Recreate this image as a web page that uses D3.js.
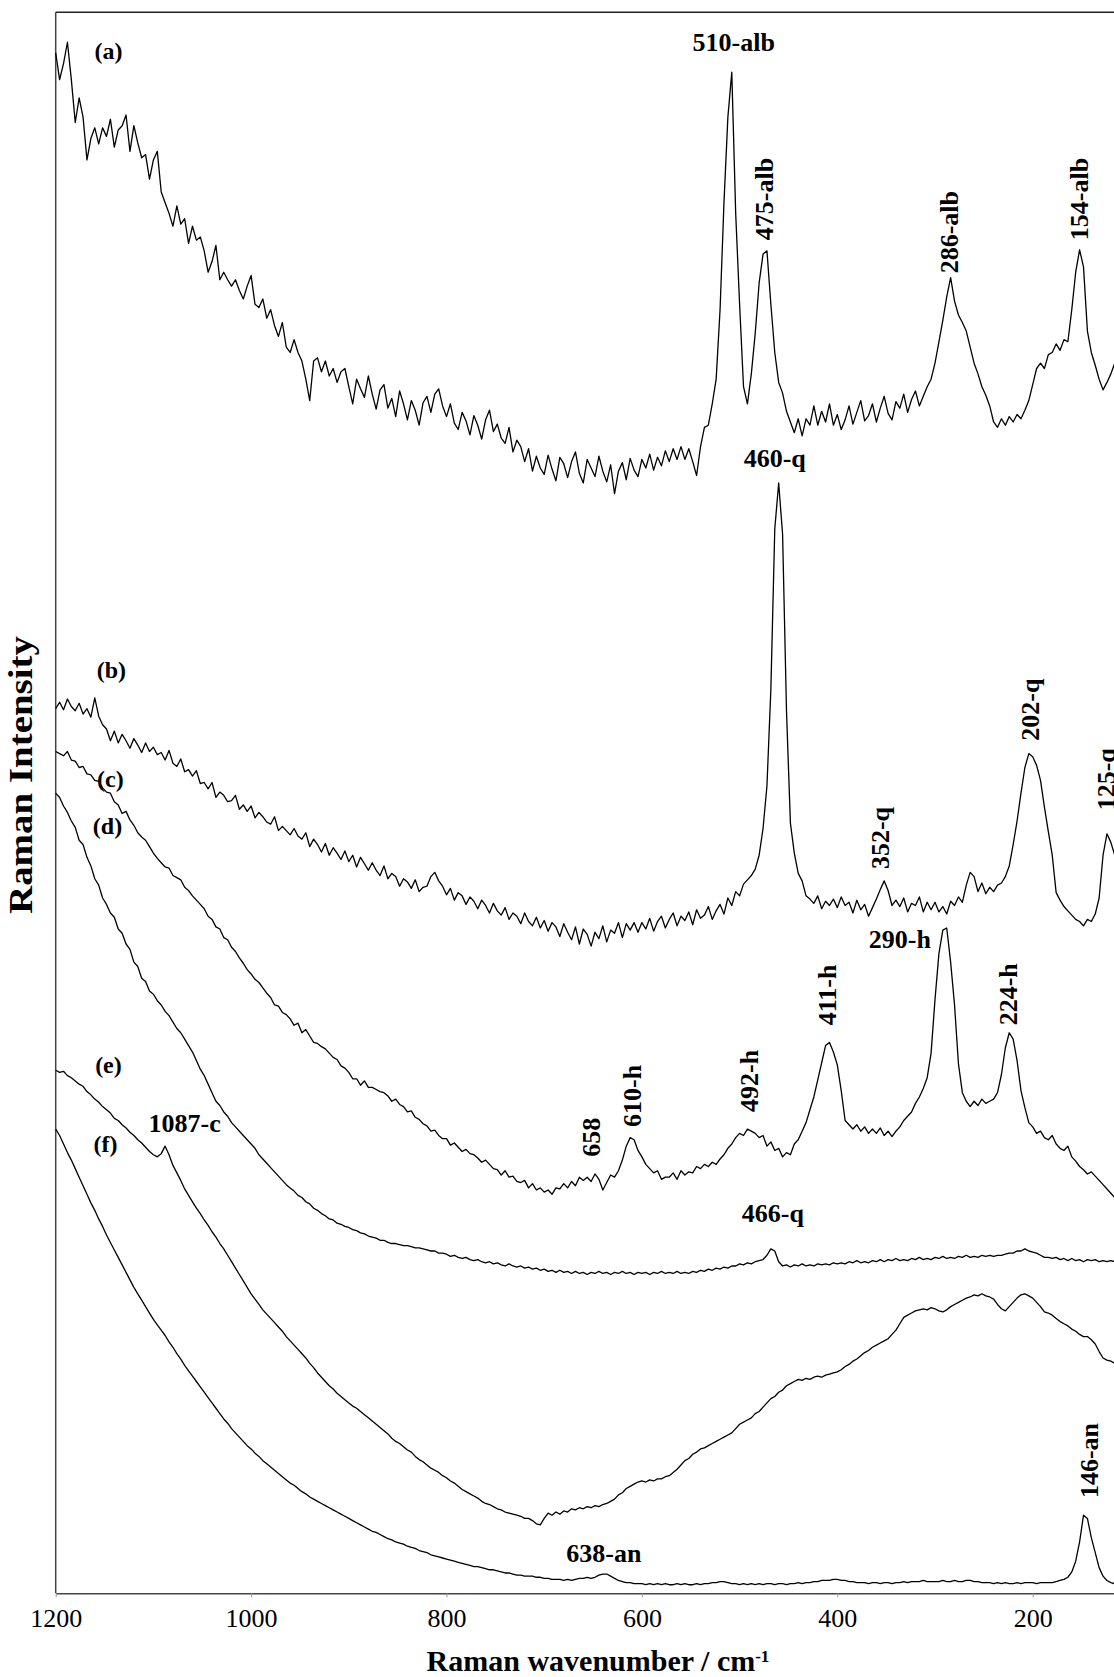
<!DOCTYPE html>
<html>
<head>
<meta charset="utf-8">
<script src="https://cdn.jsdelivr.net/npm/d3@7"></script>
<style>
  body { margin: 0; background: #fff; }
  svg { display: block; }
  text { font-family: "Liberation Serif", "Times New Roman", serif; fill: #000; }
</style>
</head>
<body>
<div id="chart"></div>
<script>
// Raman spectra (a)-(f), read every 4 cm-1 from 1200 down to 116 cm-1.
// Intensity is in arbitrary units, spectra stacked with offsets as in the figure.
const WN_START = 1200;
const WN_STEP = 4;

const specA = [
  1440,1415,1430,1450,1415,1375,1398,1380,1340,1360,1370,1355,1370,1362,1378,1352,1368,1372,1382,1348,1372,1356,1342,1345,1322,
  1340,1348,1310,1300,1290,1278,1297,1280,1285,1262,1278,1265,1268,1255,1235,1245,1260,1228,1235,1228,1222,1228,1218,1210,1222,
  1232,1205,1202,1210,1192,1200,1185,1175,1188,1165,1160,1172,1160,1152,1135,1115,1152,1155,1142,1152,1138,1145,1132,1142,1145,
  1128,1112,1135,1126,1118,1138,1121,1107,1125,1130,1108,1117,1100,1124,1112,1097,1115,1106,1092,1113,1119,1104,1121,1126,1110,
  1100,1112,1094,1088,1104,1096,1083,1101,1092,1079,1097,1106,1086,1093,1080,1075,1090,1067,1078,1072,1058,1070,1049,1063,1052,
  1046,1064,1051,1040,1062,1056,1043,1058,1067,1047,1038,1060,1052,1044,1063,1049,1039,1055,1028,1049,1057,1041,1061,1050,1044,
  1060,1052,1065,1050,1062,1054,1068,1058,1070,1060,1072,1060,1070,1058,1045,1072,1090,1092,1112,1135,1200,1300,1380,1422,1290,
  1205,1128,1112,1140,1178,1225,1252,1255,1205,1160,1132,1122,1105,1095,1085,1098,1082,1098,1092,1110,1092,1105,1095,1112,1092,
  1102,1088,1097,1110,1093,1104,1115,1096,1101,1112,1095,1108,1119,1103,1097,1114,1108,1121,1104,1116,1124,1110,1119,1128,1135,
  1150,1170,1190,1212,1230,1208,1195,1188,1180,1165,1150,1140,1128,1120,1110,1095,1090,1098,1092,1100,1095,1102,1098,1106,1115,
  1130,1145,1150,1145,1158,1160,1168,1162,1172,1170,1200,1235,1256,1240,1180,1160,1148,1135,1125,1132,1140,1150
];

const specB = [
  827,833,826,836,829,825,832,822,827,819,837,820,812,808,797,806,795,803,797,790,799,793,786,795,787,
  791,784,786,779,788,776,773,780,768,770,764,769,757,758,752,758,744,749,746,740,741,746,733,737,731,
  736,725,730,726,721,719,726,713,717,713,709,715,708,705,711,698,705,700,693,701,690,697,692,686,694,
  684,690,679,688,682,676,683,676,671,680,668,673,670,661,668,665,659,667,656,660,661,670,674,666,661,
  653,659,648,655,652,644,651,647,640,648,643,636,645,638,634,641,630,636,633,626,636,628,624,632,622,
  629,619,627,623,614,626,618,611,623,607,621,616,605,618,612,624,609,620,617,627,613,626,620,627,618,
  627,621,631,619,628,633,622,630,636,624,633,629,637,625,639,631,634,642,630,638,644,635,650,643,656,
  652,663,667,671,677,690,715,755,845,995,1038,990,825,720,692,673,666,652,649,645,652,640,647,643,649,
  641,651,643,646,636,648,639,644,633,641,649,658,666,657,643,648,642,650,637,645,643,651,637,646,639,
  646,637,642,635,647,643,651,646,662,674,670,656,664,654,660,656,662,664,670,680,700,722,748,772,785,
  782,774,760,735,712,690,655,648,642,638,634,630,628,624,630,628,635,650,690,710,702,690
];

const specC = [
  787,785,783,787,779,778,772,773,766,765,760,759,753,749,748,740,737,729,731,723,718,711,707,704,698,
  692,687,683,679,678,671,669,667,660,657,652,648,644,640,633,630,623,621,613,611,604,600,594,589,583,
  579,574,571,566,561,557,550,549,543,541,537,531,533,524,527,521,515,514,511,509,505,501,499,493,491,
  487,481,481,475,479,473,473,471,469,468,465,460,462,457,455,450,451,445,443,439,437,432,433,428,425,
  425,419,421,417,413,415,411,410,407,403,405,401,397,396,391,395,389,390,385,384,386,379,383,377,379,
  375,377,373,379,378,383,379,385,381,389,386,389,385,392,387,377,384,391,389,395,405,418,426,424,414,
  408,401,397,393,395,387,389,389,393,387,395,391,394,393,399,397,401,399,403,401,406,410,416,420,426,
  430,428,434,432,430,426,428,418,422,414,416,408,412,410,420,424,432,440,452,464,480,496,512,515,506,
  494,470,442,438,434,438,432,436,430,434,430,435,428,432,427,432,436,442,446,450,458,464,472,482,505,
  555,598,620,622,590,550,495,468,460,455,460,456,462,458,460,462,468,485,510,524,518,498,470,454,440,
  436,430,432,426,424,428,420,416,414,418,408,404,399,396,392,394,390,386,382,378,374,370
];

const specD = [
  748,744,736,730,722,716,704,700,688,680,668,662,650,644,636,632,621,617,607,602,590,586,575,572,563,
  560,554,550,544,540,534,528,524,518,512,506,498,490,484,476,468,460,456,450,446,440,436,432,428,424,
  420,416,410,406,402,398,394,390,386,382,379,376,372,370,366,364,360,358,355,353,350,349,346,345,343,
  342,340,339,337,336,334,333,332,330,330,328,327,327,326,325,325,324,323,323,322,321,320,320,318,318,
  317,315,316,314,313,314,312,311,312,310,309,310,308,309,307,306,308,306,305,306,304,305,303,304,302,
  303,301,302,300,302,300,301,299,301,299,300,298,300,299,301,299,300,298,300,299,301,299,300,298,300,
  299,300,298,300,299,301,299,300,299,301,299,300,299,301,300,302,301,303,302,304,303,305,304,306,306,
  308,307,309,308,310,311,312,316,322,320,310,306,307,305,307,306,308,306,307,306,308,307,308,307,309,
  308,309,308,310,309,311,309,310,309,311,310,312,310,312,311,313,311,312,311,313,312,314,312,313,312,
  314,313,315,313,314,313,315,314,316,314,315,314,316,315,316,315,316,316,317,318,318,320,320,322,320,
  319,318,316,314,314,313,314,312,313,311,313,311,312,310,312,311,312,310,311,310,311,310
];

const specE = [
  489,487,488,484,482,479,476,474,469,466,462,459,455,452,449,444,442,438,435,431,428,424,421,417,413,
  410,408,411,418,410,400,393,386,378,372,366,360,355,349,344,338,333,327,322,316,310,304,298,292,286,
  280,275,270,265,261,257,253,249,245,240,236,232,228,224,220,215,211,206,202,198,194,191,187,184,181,
  178,175,173,170,167,164,161,158,155,152,149,145,142,140,137,134,132,128,125,123,120,117,115,113,110,
  108,105,103,100,97,95,93,91,89,86,84,83,81,79,78,76,75,74,73,72,70,70,68,65,64,
  70,75,73,76,74,77,76,79,78,80,79,81,80,82,81,83,84,86,88,92,94,98,100,102,104,
  105,104,106,105,107,107,109,110,113,116,120,124,126,130,132,135,136,138,140,142,144,146,148,150,154,
  158,160,162,164,168,170,174,178,182,184,188,190,194,196,198,200,199,201,200,202,203,202,204,205,206,
  207,209,212,214,217,219,222,225,227,230,232,234,236,238,242,246,252,258,260,262,264,265,266,265,267,
  266,264,263,265,268,270,272,274,276,277,279,278,280,278,277,275,270,266,264,268,272,276,279,280,278,
  276,272,268,263,262,260,257,254,252,250,247,245,242,240,240,237,233,226,220,218,217,215
];

const specF = [
  434,428,420,412,405,397,389,381,373,365,358,350,343,335,328,321,314,307,300,293,286,280,274,268,262,
  256,251,246,241,235,230,224,219,213,208,203,198,193,188,183,178,173,168,163,159,154,150,146,142,138,
  135,131,128,124,121,118,115,112,109,106,103,101,98,95,93,90,88,86,84,82,80,78,76,74,72,
  70,68,66,64,62,60,58,57,55,53,51,50,48,47,46,44,43,42,40,39,38,36,35,34,33,
  32,31,30,29,28,27,26,25,25,24,23,22,22,21,20,19,19,18,17,17,16,16,16,15,15,
  14,14,13,13,13,12,13,12,13,14,14,15,14,15,17,18,18,16,14,12,11,10,10,9,9,
  9,8,9,8,9,8,9,8,8,9,8,9,8,8,9,8,9,9,10,10,11,11,10,9,9,
  8,9,8,9,8,9,8,9,9,8,9,9,8,9,9,10,9,10,10,11,11,12,12,12,13,
  13,12,12,11,11,10,10,10,9,10,10,9,10,10,9,10,10,11,10,11,11,11,12,11,11,
  11,11,12,11,11,12,11,11,12,12,11,11,10,10,10,9,10,9,10,9,9,10,9,10,10,
  10,9,10,10,10,10,11,12,13,15,20,30,48,73,70,52,38,24,16,12,10,9
];

const xTickValues = [1200, 1000, 800, 600, 400, 200];

// curve tags: [text, wavenumber, intensity]
const seriesTags = [
  ["(a)", 1146, 1434],
  ["(b)", 1143, 856],
  ["(c)", 1144, 754],
  ["(d)", 1147, 710],
  ["(e)", 1146, 486],
  ["(f)", 1149, 413]
];

// band assignments: [text, wavenumber, intensity, vertical]
const peakTags = [
  ["510-alb", 506, 1442, false],
  ["475-alb", 466, 1265, true],
  ["286-alb", 276, 1234, true],
  ["154-alb", 143, 1265, true],
  ["460-q", 464, 1053, false],
  ["352-q", 347, 677, true],
  ["202-q", 194, 797, true],
  ["125-q", 116, 732, true],
  ["290-h", 336, 603, false],
  ["411-h", 401, 531, true],
  ["224-h", 216, 531, true],
  ["492-h", 481, 450, true],
  ["610-h", 601, 436, true],
  ["658", 643, 408, true],
  ["466-q", 466, 347, false],
  ["1087-c", 1068, 431, false],
  ["638-an", 639, 29, false],
  ["146-an", 133, 89, true]
];

const W = 1114, H = 1677;
const plot = { left: 55.7, top: 12.3, bottom: 1593.3 };

const x = d3.scaleLinear().domain([1200, 100]).range([plot.left, plot.left + 1100 * 0.977]);
const y = d3.scaleLinear().domain([0, 1478]).range([plot.bottom, plot.top]);

const svg = d3.select("#chart").append("svg").attr("width", W).attr("height", H);

// frame: top and left edges (the right edge is cut off in the figure)
svg.append("line")
  .attr("x1", x(1200)).attr("x2", W).attr("y1", y(1478)).attr("y2", y(1478))
  .attr("stroke", "#222").attr("stroke-width", 1.5);
svg.append("line")
  .attr("x1", x(1200)).attr("x2", x(1200)).attr("y1", y(1478)).attr("y2", y(0))
  .attr("stroke", "#444").attr("stroke-width", 1.5);

const gx = svg.append("g").attr("transform", `translate(0,${plot.bottom})`)
  .call(d3.axisBottom(x).tickValues(xTickValues).tickSize(4).tickSizeOuter(0).tickFormat(d3.format("d")));
gx.select(".domain").attr("stroke", "#444").attr("stroke-width", 1.5);
gx.selectAll(".tick line").attr("stroke", "#999");
gx.selectAll(".tick text").attr("y", 34).attr("dy", null)
  .style("font-size", "26px").style("font-family", "'Liberation Serif', serif");

const spectra = [specA, specB, specC, specD, specE, specF];
const line = d3.line()
  .x((d, i) => x(WN_START - i * WN_STEP))
  .y(d => y(d));

svg.append("g").selectAll("path").data(spectra).join("path")
  .attr("d", line)
  .attr("fill", "none")
  .attr("stroke", "#000")
  .attr("stroke-width", 1.3)
  .attr("stroke-linejoin", "round");

svg.append("g").selectAll("text").data(seriesTags).join("text")
  .text(d => d[0])
  .attr("x", d => x(d[1])).attr("y", d => y(d[2]))
  .attr("text-anchor", "middle")
  .style("font-size", "24px").style("font-weight", "bold");

const tags = svg.append("g");
peakTags.forEach(([t, wn, v, vert]) => {
  const el = tags.append("text").text(t)
    .style("font-size", "26px").style("font-weight", "bold");
  if (vert) el.attr("transform", `translate(${x(wn)},${y(v)}) rotate(-90)`);
  else el.attr("x", x(wn)).attr("y", y(v)).attr("text-anchor", "middle");
});

// axis titles
const xt = svg.append("text")
  .attr("x", 598).attr("y", 1671).attr("text-anchor", "middle")
  .style("font-size", "30px").style("font-weight", "bold");
xt.append("tspan").text("Raman wavenumber / cm");
xt.append("tspan").text("-1").attr("dy", -9).style("font-size", "17px");

svg.append("text")
  .attr("transform", "translate(32,775) rotate(-90) scale(1.18,1)")
  .attr("text-anchor", "middle")
  .style("font-size", "33px").style("font-weight", "bold")
  .text("Raman Intensity");
</script>
</body>
</html>
